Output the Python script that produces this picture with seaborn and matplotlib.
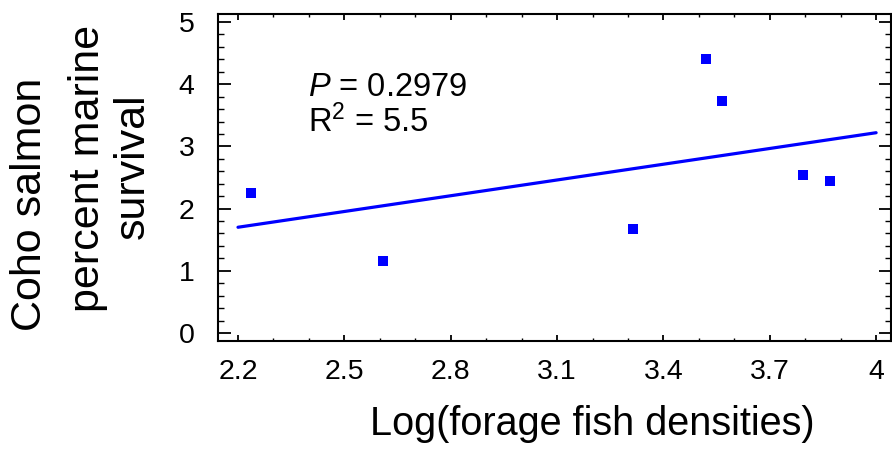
import matplotlib
matplotlib.use("Agg")
import matplotlib.pyplot as plt
from matplotlib.ticker import MultipleLocator, FixedLocator
import seaborn as sns
import pandas as pd

# Data
log_density = [2.236, 2.61, 3.315, 3.52, 3.565, 3.793, 3.870]
survival = [2.25, 1.16, 1.67, 4.41, 3.73, 2.54, 2.45]
fit_x = [2.2, 4.0]
fit_y = [1.70, 3.22]
x_ticks = [2.2, 2.5, 2.8, 3.1, 3.4, 3.7, 4.0]
x_tick_labels = ["2.2", "2.5", "2.8", "3.1", "3.4", "3.7", "4"]
y_ticks = [0, 1, 2, 3, 4, 5]
p_text = r"$\mathit{P}$ = 0.2979"
r2_text = r"R$^2$ = 5.5"

sns.set_style("ticks")
plt.rcParams["font.family"] = ["Liberation Sans", "DejaVu Sans"]
plt.rcParams["mathtext.fontset"] = "custom"
plt.rcParams["mathtext.rm"] = "Liberation Sans"
plt.rcParams["mathtext.it"] = "Liberation Sans:italic"
plt.rcParams["text.color"] = "black"
plt.rcParams["axes.labelcolor"] = "black"
plt.rcParams["xtick.color"] = "black"
plt.rcParams["ytick.color"] = "black"

fig = plt.figure(figsize=(8.92, 4.5), dpi=100)
ax = fig.add_axes([218 / 892, 1 - 341 / 450, (891 - 218) / 892, (341 - 14) / 450])

pts = pd.DataFrame({"x": log_density, "y": survival})
fit = pd.DataFrame({"x": fit_x, "y": fit_y})

sns.lineplot(data=fit, x="x", y="y", ax=ax, color="#0000ff", linewidth=2.3)
sns.scatterplot(data=pts, x="x", y="y", ax=ax, marker="s", s=46, color="#0000ff",
                edgecolor="#0000ff", linewidth=0, zorder=5)

ax.set_xlim(2.1436, 4.042)
ax.set_ylim(-0.129, 5.129)
ax.xaxis.set_major_locator(FixedLocator(x_ticks))
ax.set_xticklabels(x_tick_labels)
ax.xaxis.set_minor_locator(MultipleLocator(0.1))
ax.yaxis.set_major_locator(FixedLocator(y_ticks))
ax.yaxis.set_minor_locator(MultipleLocator(0.2))

for s in ax.spines.values():
    s.set_visible(True)
    s.set_color("black")
    s.set_linewidth(1.5)

ax.tick_params(axis="x", which="major", direction="in", length=4.5, width=1.3,
               top=True, bottom=True, labelsize=20.5, pad=13)
ax.tick_params(axis="x", which="minor", direction="in", length=2.5, width=1.0,
               top=True, bottom=True)
ax.tick_params(axis="y", which="major", direction="in", length=9, width=1.3,
               left=True, right=True, labelsize=20.5, pad=17)
ax.tick_params(axis="y", which="minor", direction="in", length=4.5, width=1.0,
               left=True, right=True)
for lab in ax.get_xticklabels() + ax.get_yticklabels():
    lab.set_color("black")

ax.set_xlabel("")
ax.set_ylabel("")

# Annotations
ax.text(2.3975, 3.81, p_text, fontsize=23.5, va="baseline", ha="left")
ax.text(2.3975, 3.23, r2_text, fontsize=23.5, va="baseline", ha="left")

# Axis titles
fig.text(592 / 892, 1 - 435 / 450, "Log(forage fish densities)", fontsize=28.5,
         ha="center", va="baseline")
fig.text(30 / 892, 1 - 204 / 450, "Coho salmon", fontsize=31, rotation=90,
         ha="center", va="center")
fig.text(88 / 892, 1 - 168 / 450, "percent marine", fontsize=31, rotation=90,
         ha="center", va="center")
fig.text(133 / 892, 1 - 166 / 450, "survival", fontsize=31, rotation=90,
         ha="center", va="center")

fig.savefig("out.png", dpi=100)
